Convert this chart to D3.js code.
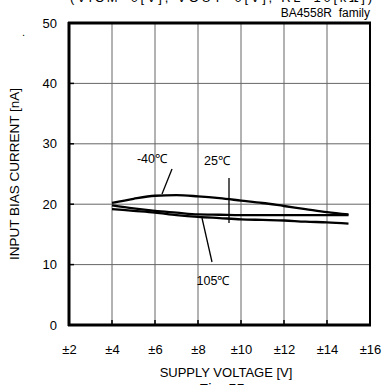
<!DOCTYPE html>
<html><head><meta charset="utf-8">
<script src="https://cdn.jsdelivr.net/npm/d3@7"></script>
<style>body{margin:0;background:#fff}svg{display:block;font-family:"Liberation Sans",Arial,sans-serif}</style>
</head><body><svg id="c" width="383" height="385"></svg>
<script>
const xTicks = [2,4,6,8,10,12,14,16];
const xTickLabels = ["±2","±4","±6","±8","±10","±12","±14","±16"];
const yTicks = [0,10,20,30,40,50];
const volts = [4,5,6,7,8,9,10,11,12,13,14,15];
const tempM40 = [20.2,20.9,21.4,21.5,21.3,21.0,20.6,20.2,19.7,19.2,18.7,18.3];
const temp25  = [19.8,19.3,18.9,18.6,18.3,18.25,18.2,18.2,18.2,18.2,18.2,18.2];
const temp105 = [19.2,18.9,18.6,18.2,17.9,17.7,17.5,17.4,17.3,17.1,17.0,16.8];
const seriesNames = ["-40℃","25℃","105℃"];

const svg = d3.select("#c");
const L=69,R=370,T=23,B=325;
const x = d3.scaleLinear().domain([2,16]).range([L,R]);
const y = d3.scaleLinear().domain([0,50]).range([B,T]);

// partially visible header
svg.append("text").attr("x",70).attr("y",2).attr("font-size",13)
  .attr("textLength",302).text("(VICM=0[V], VOUT=0[V], RL=10[kΩ])");
svg.append("text").attr("x",370).attr("y",17).attr("font-size",12).attr("text-anchor","end")
  .attr("xml:space","preserve").text("BA4558R  family");
svg.append("text").attr("x",22).attr("y",36).attr("font-size",11).text(".");

// grid
svg.append("g").selectAll("line").data(xTicks.slice(1,-1)).join("line")
  .attr("x1",d=>x(d)).attr("x2",d=>x(d)).attr("y1",T).attr("y2",B)
  .attr("stroke","#666").attr("stroke-width",1);
svg.append("g").selectAll("line").data(yTicks.slice(1,-1)).join("line")
  .attr("x1",L).attr("x2",R).attr("y1",d=>y(d)).attr("y2",d=>y(d))
  .attr("stroke","#666").attr("stroke-width",1);

// frame
svg.append("rect").attr("x",L).attr("y",T).attr("width",R-L).attr("height",B-T)
  .attr("fill","none").attr("stroke","#000").attr("stroke-width",2);
svg.append("line").attr("x1",L).attr("x2",L).attr("y1",T-1).attr("y2",B+1).attr("stroke","#000").attr("stroke-width",3);
svg.append("line").attr("x1",L-1).attr("x2",R+1).attr("y1",B).attr("y2",B).attr("stroke","#000").attr("stroke-width",3);
svg.append("line").attr("x1",L-1).attr("x2",R+1).attr("y1",T).attr("y2",T).attr("stroke","#000").attr("stroke-width",3);

// axes labels
const xa = d3.axisBottom(x).tickValues(xTicks).tickFormat((d,i)=>xTickLabels[i]).tickSize(0).tickPadding(20);
const gx = svg.append("g").attr("transform",`translate(0,${B})`).call(xa);
gx.select(".domain").remove();
gx.selectAll("text").attr("font-size",13).attr("fill","#000").attr("font-family","Liberation Sans, Arial, sans-serif");
const ya = d3.axisLeft(y).tickValues(yTicks).tickSize(0).tickPadding(12);
const gy = svg.append("g").attr("transform",`translate(${L},0)`).call(ya);
gy.select(".domain").remove();
gy.selectAll("text").attr("font-size",13).attr("fill","#000").attr("font-family","Liberation Sans, Arial, sans-serif");
// small ticks
svg.append("g").selectAll("line").data(xTicks.slice(1,-1)).join("line")
  .attr("x1",d=>x(d)).attr("x2",d=>x(d)).attr("y1",B-5).attr("y2",B).attr("stroke","#000").attr("stroke-width",1.5);
svg.append("g").selectAll("line").data(yTicks.slice(1,-1)).join("line")
  .attr("x1",L).attr("x2",L+5).attr("y1",d=>y(d)).attr("y2",d=>y(d)).attr("stroke","#000").attr("stroke-width",1.5);

svg.append("text").attr("x",226).attr("y",377).attr("font-size",13).attr("text-anchor","middle").text("SUPPLY VOLTAGE [V]");
svg.append("text").attr("transform","translate(19,174) rotate(-90)").attr("font-size",13.5).attr("text-anchor","middle").text("INPUT BIAS CURRENT [nA]");
svg.append("text").attr("x",222).attr("y",394).attr("font-size",15).attr("text-anchor","middle").text("Fig. 55");

// curves
const line = d3.line().x((d,i)=>x(volts[i])).y(d=>y(d)).curve(d3.curveMonotoneX);
[tempM40,temp25,temp105].forEach(s=>{
  svg.append("path").attr("d",line(s)).attr("fill","none").attr("stroke","#000").attr("stroke-width",2.3);
});

// annotations
const ann = [
  {t:seriesNames[0], tx:152, ty:163, x1:172,y1:169,x2:162,y2:194},
  {t:seriesNames[1], tx:217, ty:165, x1:229,y1:178,x2:229,y2:223},
  {t:seriesNames[2], tx:213, ty:285, x1:202,y1:218,x2:212,y2:262}
];
ann.forEach(a=>{
  svg.append("text").attr("x",a.tx).attr("y",a.ty).attr("font-size",12.5).attr("text-anchor","middle").text(a.t);
  svg.append("line").attr("x1",a.x1).attr("y1",a.y1).attr("x2",a.x2).attr("y2",a.y2).attr("stroke","#000").attr("stroke-width",1.3);
});
</script></body></html>
